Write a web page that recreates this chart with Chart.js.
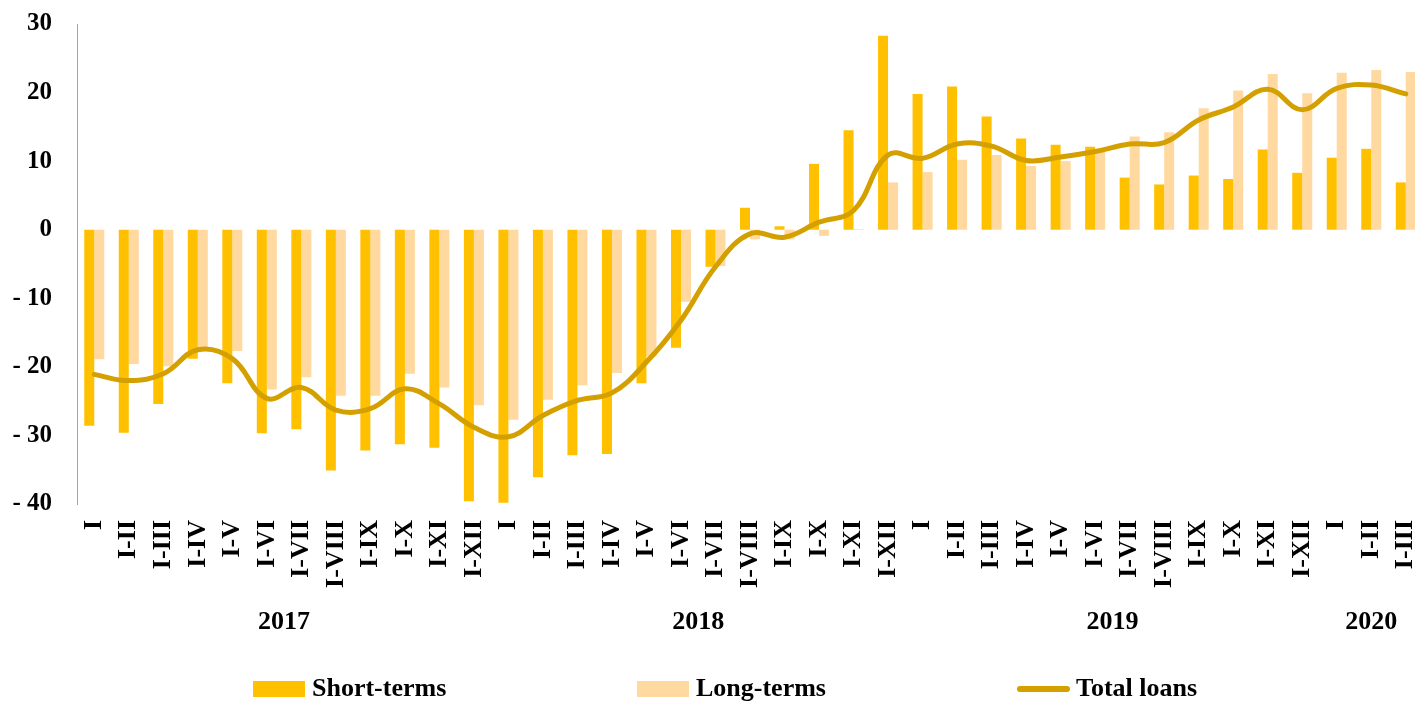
<!DOCTYPE html>
<html>
<head>
<meta charset="utf-8">
<script src="https://cdn.jsdelivr.net/npm/chart.js@4/dist/chart.umd.min.js"></script>
<style>
  body { margin: 0; background: #fff; overflow: hidden; }
  #wrap { position: relative; width: 1415px; height: 701px; overflow: hidden; }
  #chart { position: absolute; left: 0; top: 0; }
  .lg { position: absolute; top: 673px; font: bold 26px "Liberation Serif", "Times New Roman", serif; color: #000; white-space: nowrap; }
  .lg span.box { position: absolute; left: 0; top: 8px; width: 52px; height: 16px; }
  .lg span.line { position: absolute; left: 0; top: 13px; width: 53px; height: 6px; border-radius: 3px; }
  .lg span.txt { position: absolute; left: 59px; top: 0; line-height: 30px; }
</style>
</head>
<body>
<div id="wrap">
  <canvas id="chart" width="1453" height="701"></canvas>
  <div class="lg" style="left:253px"><span class="box" style="background:#FFC000"></span><span class="txt">Short-terms</span></div>
  <div class="lg" style="left:637px"><span class="box" style="background:#FFD9A0"></span><span class="txt">Long-terms</span></div>
  <div class="lg" style="left:1017px"><span class="line" style="background:#D4A000"></span><span class="txt">Total loans</span></div>
</div>
<script>
// Categories
const months = ['I','I-II','I-III','I-IV','I-V','I-VI','I-VII','I-VIII','I-IX','I-X','I-XI','I-XII'];
const labels = [...months, ...months, ...months, 'I', 'I-II', 'I-III'];
const years = ['2017', '2018', '2019', '2020'];
const yearSpans = [12, 12, 12, 3];

// Series
const shortTerms = [-28.6, -29.6, -25.4, -18.8, -22.4, -29.7, -29.1, -35.1, -32.2, -31.3, -31.8, -39.6,
  -39.8, -36.1, -32.9, -32.7, -22.4, -17.2, -5.4, 3.2, 0.5, 9.6, 14.5, 28.3,
  19.8, 20.9, 16.5, 13.3, 12.4, 12.1, 7.6, 6.6, 7.9, 7.4, 11.7, 8.3,
  10.5, 11.8, 6.9];
const longTerms = [-18.9, -19.6, -19.9, -17.4, -17.7, -23.3, -21.5, -24.2, -24.2, -21.0, -23.0, -25.6,
  -27.7, -24.8, -22.7, -20.9, -18.5, -10.5, -5.3, -1.4, -1.4, -0.9, 0.1, 6.9,
  8.4, 10.2, 10.9, 9.3, 10.0, 11.4, 13.6, 14.2, 17.7, 20.3, 22.7, 19.9,
  22.9, 23.3, 23.0];
const totalLoans = [-21.1, -22.0, -21.0, -17.5, -18.8, -24.6, -23.0, -26.3, -26.1, -23.2, -25.4, -28.8,
  -30.2, -27.1, -24.9, -23.8, -19.3, -13.2, -5.4, -0.6, -1.1, 1.1, 2.8, 10.9,
  10.4, 12.5, 12.2, 10.1, 10.6, 11.4, 12.5, 12.7, 16.0, 17.9, 20.5, 17.5,
  20.6, 21.1, 19.8];

// Y ticks
const yTicks = [30, 20, 10, 0, -10, -20, -30, -40];

const FONT = '"Liberation Serif", "Times New Roman", serif';

// Year labels under the month labels
const yearLabels = {
  id: 'yearLabels',
  afterDraw(chart) {
    const ctx = chart.ctx;
    const xs = chart.scales.x;
    ctx.save();
    ctx.font = 'bold 26px ' + FONT;
    ctx.fillStyle = '#000';
    ctx.textAlign = 'center';
    ctx.textBaseline = 'middle';
    let idx = 0;
    years.forEach((y, i) => {
      const a = xs.getPixelForValue(idx);
      const b = xs.getPixelForValue(idx + yearSpans[i] - 1);
      ctx.fillText(y, (a + b) / 2, 622);
      idx += yearSpans[i];
    });
    ctx.restore();
  }
};

new Chart(document.getElementById('chart'), {
  data: {
    labels: labels,
    datasets: [
      {
        type: 'line',
        label: 'Total loans',
        data: totalLoans,
        borderColor: '#D4A000',
        borderWidth: 5,
        tension: 0.4,
        pointRadius: 0,
        borderCapStyle: 'round',
        order: 0
      },
      {
        type: 'bar',
        label: 'Short-terms',
        data: shortTerms,
        backgroundColor: '#FFC000',
        categoryPercentage: 0.58,
        barPercentage: 1,
        order: 1
      },
      {
        type: 'bar',
        label: 'Long-terms',
        data: longTerms,
        backgroundColor: '#FFD9A0',
        categoryPercentage: 0.58,
        barPercentage: 1,
        order: 1
      }
    ]
  },
  options: {
    responsive: false,
    animation: false,
    devicePixelRatio: 1,
    layout: { padding: { top: 24, right: 2, left: 0, bottom: 0 } },
    plugins: {
      legend: { display: false },
      tooltip: { enabled: false }
    },
    scales: {
      x: {
        offset: true,
        grid: { display: false, drawTicks: false },
        border: { display: false },
        ticks: {
          autoSkip: false,
          minRotation: 90,
          maxRotation: 90,
          padding: 16,
          color: '#000',
          font: { family: FONT, size: 26, weight: 'bold' }
        },
        afterFit(scale) { scale.height = 197; }
      },
      y: {
        min: -40,
        max: 30,
        // tick marks are hidden (grid off) but their length keeps the labels off the axis
        grid: { display: false, drawTicks: true, tickLength: 25 },
        border: { display: true, color: '#A6A6A6', width: 1 },
        afterBuildTicks(scale) { scale.ticks = yTicks.map(v => ({ value: v })); },
        ticks: {
          padding: 0,
          color: '#000',
          font: { family: FONT, size: 25, weight: 'bold' },
          callback: v => v < 0 ? '- ' + Math.abs(v) : String(v)
        },
        afterFit(scale) { scale.width = 77; }
      }
    }
  },
  plugins: [yearLabels]
});
</script>
</body>
</html>
